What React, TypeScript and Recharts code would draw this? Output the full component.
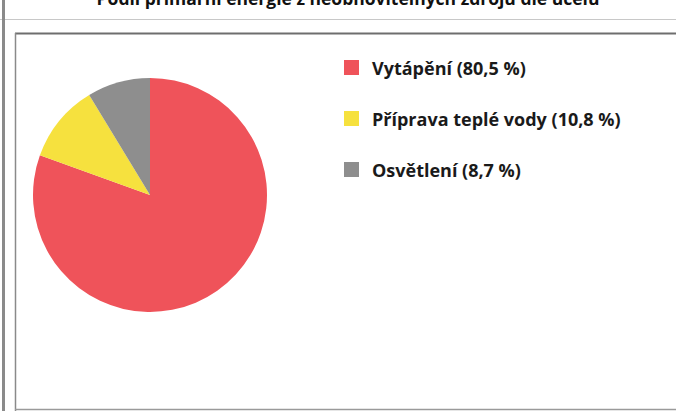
import { PieChart, Pie, Cell, Legend } from 'recharts';

const categories = ['Vytápění', 'Příprava teplé vody', 'Osvětlení'];
const shares = [80.5, 10.8, 8.7];
const colors = ['#EF535A', '#F6E13E', '#8E8E8E'];
const title = 'Podíl primární energie z neobnovitelných zdrojů dle účelu';

const data = categories.map((name, i) => ({ name, value: shares[i] }));

const fmt = (v: number) => v.toFixed(1).replace('.', ',');

function LegendList({ payload }: { payload?: any[] }) {
    const items = [...(payload ?? [])].sort(
        (a, b) => categories.indexOf(a.value) - categories.indexOf(b.value)
    );
    return (
        <div style={{ fontFamily: '"Open Sans", sans-serif', fontWeight: 700, fontSize: 18, color: '#1a1a1a' }}>
            {items.map((entry) => {
                const idx = categories.indexOf(entry.value);
                return (
                    <div key={`leg-${idx}`} style={{ display: 'flex', alignItems: 'center', height: 51 }}>
                        <span style={{ width: 15, height: 15, background: colors[idx], marginRight: 13, display: 'inline-block' }} />
                        <span>{`${entry.value} (${fmt(shares[idx])} %)`}</span>
                    </div>
                );
            })}
        </div>
    );
}

export default function App() {
    return (
        <div style={{ position: 'absolute', left: 0, top: 0, width: 676, height: 411, background: '#fff', overflow: 'hidden' }}>
            <svg width={676} height={411} style={{ position: 'absolute', left: 0, top: 0 }}>
                <text x={348} y={5} textAnchor="middle" fontFamily="'Open Sans', sans-serif" fontWeight={700} fontSize={17.5} fill="#111">
                    {title}
                </text>
                <line x1={0} y1={19.5} x2={676} y2={19.5} stroke="#c8c8c8" strokeWidth={1} />
                <line x1={3.5} y1={0} x2={3.5} y2={411} stroke="#8a8a8a" strokeWidth={3} />
                <line x1={15} y1={33.5} x2={676} y2={33.5} stroke="#6e6e6e" strokeWidth={2} />
                <line x1={15.5} y1={33} x2={15.5} y2={411} stroke="#8a8a8a" strokeWidth={1.5} />
                <line x1={15} y1={409.5} x2={676} y2={409.5} stroke="#9a9a9a" strokeWidth={1.5} />
            </svg>
            <div style={{ position: 'absolute', left: 0, top: 0 }}>
                <PieChart width={676} height={411} margin={{ top: 0, right: 0, bottom: 0, left: 0 }}>
                    <Pie
                        data={data}
                        dataKey="value"
                        nameKey="name"
                        cx={150}
                        cy={195}
                        outerRadius={117}
                        startAngle={90}
                        endAngle={-270}
                        stroke="none"
                        isAnimationActive={false}
                    >
                        {data.map((_, i) => (
                            <Cell key={`cell-${i}`} fill={colors[i]} />
                        ))}
                    </Pie>
                    <Legend
                        layout="horizontal"
                        align="center"
                        verticalAlign="middle"
                        content={(props: any) => <LegendList payload={props.payload} />}
                        wrapperStyle={{ left: 344, top: 42, width: 330 }}
                    />
                </PieChart>
            </div>
        </div>
    );
}
